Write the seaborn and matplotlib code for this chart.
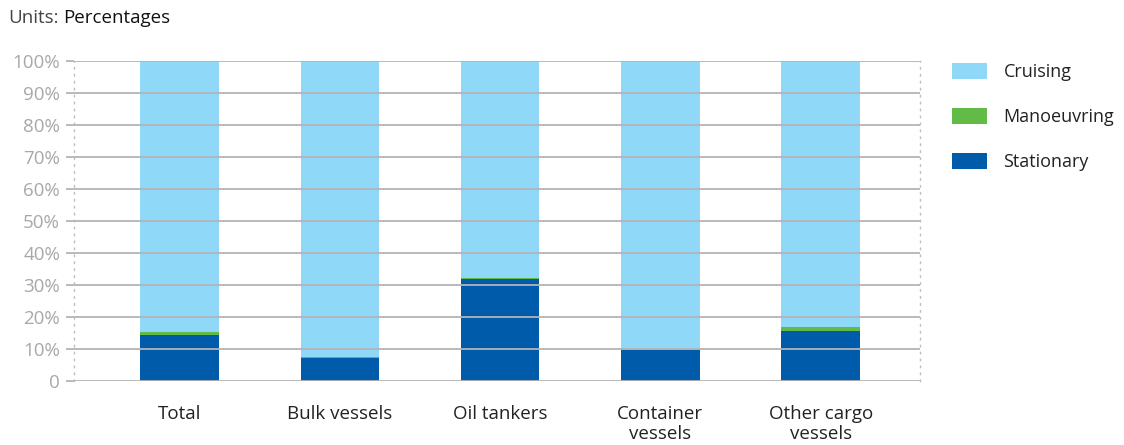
import matplotlib
matplotlib.use("Agg")
import matplotlib.pyplot as plt
from matplotlib.patches import Patch
import seaborn as sns
import pandas as pd
import numpy as np

categories = ["Total", "Bulk vessels", "Oil tankers", "Container\nvessels", "Other cargo\nvessels"]
stationary = [14.5, 7.1, 31.8, 9.6, 15.7]
manoeuvring = [0.8, 0.4, 0.5, 0.4, 1.2]
cruising = [100 - s - m for s, m in zip(stationary, manoeuvring)]
yticks = [0, 10, 20, 30, 40, 50, 60, 70, 80, 90, 100]
ytick_labels = ["0"] + [f"{v}%" for v in yticks[1:]]

c_cruise = "#8FD8F7"
c_man = "#62BB47"
c_stat = "#005BAA"

sns.set_theme(style="white")
plt.rcParams['font.family'] = ['Open Sans', 'DejaVu Sans']

df = pd.DataFrame({
    "category": categories,
    "top": [s + m + c for s, m, c in zip(stationary, manoeuvring, cruising)],
    "mid": [s + m for s, m in zip(stationary, manoeuvring)],
    "low": stationary,
})

fig = plt.figure(figsize=(11.24, 4.45), dpi=100)
ax = fig.add_axes([74/1124, 1 - 381/445, (920-74)/1124, (381-61)/445])

sns.barplot(data=df, x="category", y="top", color=c_cruise, width=0.49, ax=ax,
            saturation=1, edgecolor="none", zorder=1)
sns.barplot(data=df, x="category", y="mid", color=c_man, width=0.49, ax=ax,
            saturation=1, edgecolor="none", zorder=1)
sns.barplot(data=df, x="category", y="low", color=c_stat, width=0.49, ax=ax,
            saturation=1, edgecolor="none", zorder=1)

ax.set_xlim(-0.66, 4.62)
ax.set_ylim(0, 100)
ax.set_yticks(yticks)
ax.set_yticklabels(ytick_labels)
ax.set_xlabel("")
ax.set_ylabel("")

for y in yticks:
    ax.axhline(y, color="#b4b4b4", lw=1.3, zorder=3, xmin=0, xmax=1)

ax.tick_params(axis="y", which="both", left=True, length=6, width=1.3, color="#b4b4b4",
               labelcolor="#a8a8a8", labelsize=13.5, pad=4)
ax.tick_params(axis="x", length=0, labelcolor="#222222", labelsize=13.5, pad=17)
for t in ax.get_xticklabels():
    t.set_linespacing(1.2)

for side in ["top", "bottom"]:
    ax.spines[side].set_visible(False)
for side in ["left", "right"]:
    ax.spines[side].set_visible(True)
    ax.spines[side].set_linestyle((0, (1, 4)))
    ax.spines[side].set_color("#bdbdbd")
    ax.spines[side].set_linewidth(1.0)

t1 = fig.text(8/1124, 1 - 18/445, "Units:", fontsize=13.5, color="#444444", va="center", ha="left")
fig.canvas.draw()
bb = t1.get_window_extent()
fig.text((bb.x1 + 5)/1124, 1 - 18/445, "Percentages", fontsize=13.5, color="#111111",
         va="center", ha="left")

handles = [Patch(facecolor=c_cruise, edgecolor="none"),
           Patch(facecolor=c_man, edgecolor="none"),
           Patch(facecolor=c_stat, edgecolor="none")]
leg = fig.legend(handles, ["Cruising", "Manoeuvring", "Stationary"],
                 loc="upper left", bbox_to_anchor=(952/1124, 1 - 63/445),
                 frameon=False, fontsize=13, handlelength=1.95, handleheight=0.95,
                 handletextpad=0.9, labelspacing=1.5, borderaxespad=0, borderpad=0)
for t in leg.get_texts():
    t.set_color("#222222")

fig.savefig("out.png", dpi=100)
